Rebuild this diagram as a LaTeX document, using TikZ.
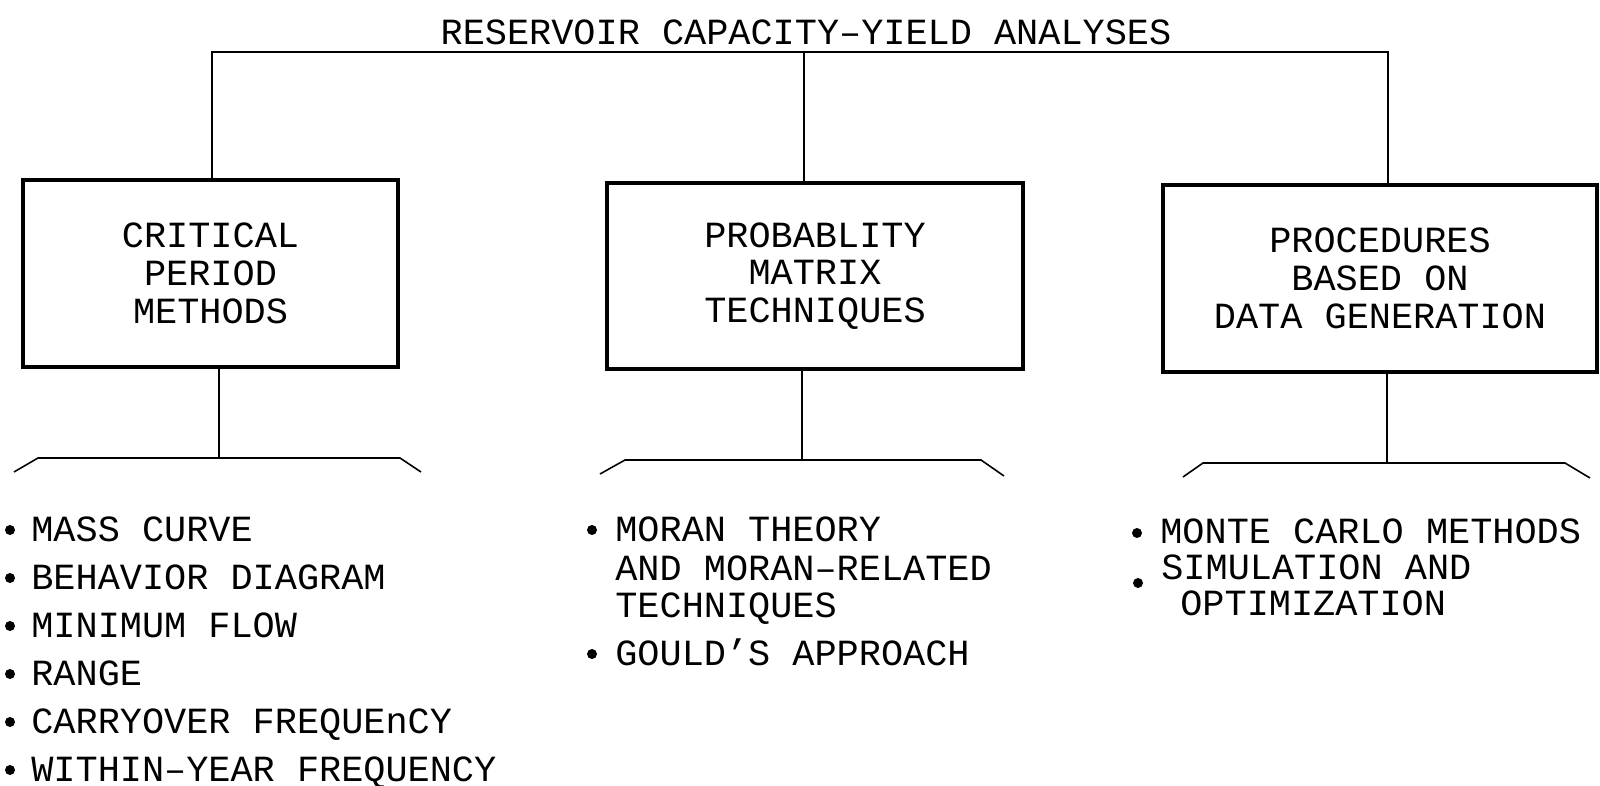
\documentclass[tikz,border=0pt]{standalone}
\usepackage{fontspec}
\setmainfont{Liberation Mono}
\begin{document}
\begin{tikzpicture}[x=0.02cm,y=-0.02cm,
    every node/.style={font=\fontsize{21}{21.5}\selectfont},
    methodbox/.style={draw,line width=1.8pt,align=center,inner sep=0pt},
    itemtext/.style={anchor=base west,inner sep=0pt},
    link/.style={line width=0.9pt}]
    \useasboundingbox (0,0) rectangle (1600,786);

    % Title
    \node[inner sep=0pt] (title) at (806,32) {RESERVOIR CAPACITY–YIELD ANALYSES};

    % Boxes for the three groups
    \node[methodbox,minimum width=7.5cm,minimum height=3.74cm] (crit) at (210.5,273.5) {CRITICAL\\PERIOD\\METHODS};
    \node[methodbox,minimum width=8.32cm,minimum height=3.72cm] (prob) at (815,276) {PROBABLITY\\MATRIX\\TECHNIQUES};
    \node[methodbox,minimum width=8.68cm,minimum height=3.74cm] (proc) at (1380,278.5) {PROCEDURES\\BASED ON\\DATA GENERATION};

    % Bus from the title down to the boxes
    \coordinate (bus1) at (212,52);
    \coordinate (bus2) at (804,52);
    \coordinate (bus3) at (1388,52);
    \draw[link] (bus1 |- crit.north) -- (bus1) -- (bus3) -- (bus3 |- proc.north);
    \draw[link] (bus2) -- (bus2 |- prob.north);

    % Brackets under the boxes
    \coordinate (fork1) at (219,458);
    \coordinate (fork2) at (802,460);
    \coordinate (fork3) at (1387,463);
    \draw[link] (fork1 |- crit.south) -- (fork1);
    \draw[link] (fork2 |- prob.south) -- (fork2);
    \draw[link] (fork3 |- proc.south) -- (fork3);
    \draw[link] (14,472) -- (38,458) -- (400,458) -- (421,472);
    \draw[link] (600,474) -- (625,460) -- (981,460) -- (1004,476);
    \draw[link] (1183,477) -- (1203,463) -- (1565,463) -- (1590,478);

    % Critical period methods
    \foreach \txt [count=\i] in {MASS CURVE, BEHAVIOR DIAGRAM, MINIMUM FLOW, RANGE, CARRYOVER FREQUEnCY, WITHIN–YEAR FREQUENCY} {
        \node[itemtext] (crititem\i) at (31,494+48*\i) {\txt};
        \fill (10,482+48*\i) circle (0.1cm);
    }

    % Probability matrix techniques
    \node[itemtext] (probitem1) at (615,542) {MORAN THEORY};
    \node[itemtext] (probitem2) at (615,581) {AND MORAN–RELATED};
    \node[itemtext] (probitem3) at (615,618) {TECHNIQUES};
    \node[itemtext] (probitem4) at (615,666) {GOULD'S APPROACH};
    \fill (592,530) circle (0.1cm);
    \fill (592,654) circle (0.1cm);

    % Procedures based on data generation
    \node[itemtext] (procitem1) at (1160,544) {MONTE CARLO METHODS};
    \node[itemtext] (procitem2) at (1161,580) {SIMULATION AND};
    \node[itemtext] (procitem3) at (1180,616) {OPTIMIZATION};
    \fill (1137,533) circle (0.1cm);
    \fill (1138,583) circle (0.1cm);

\end{tikzpicture}
\end{document}
